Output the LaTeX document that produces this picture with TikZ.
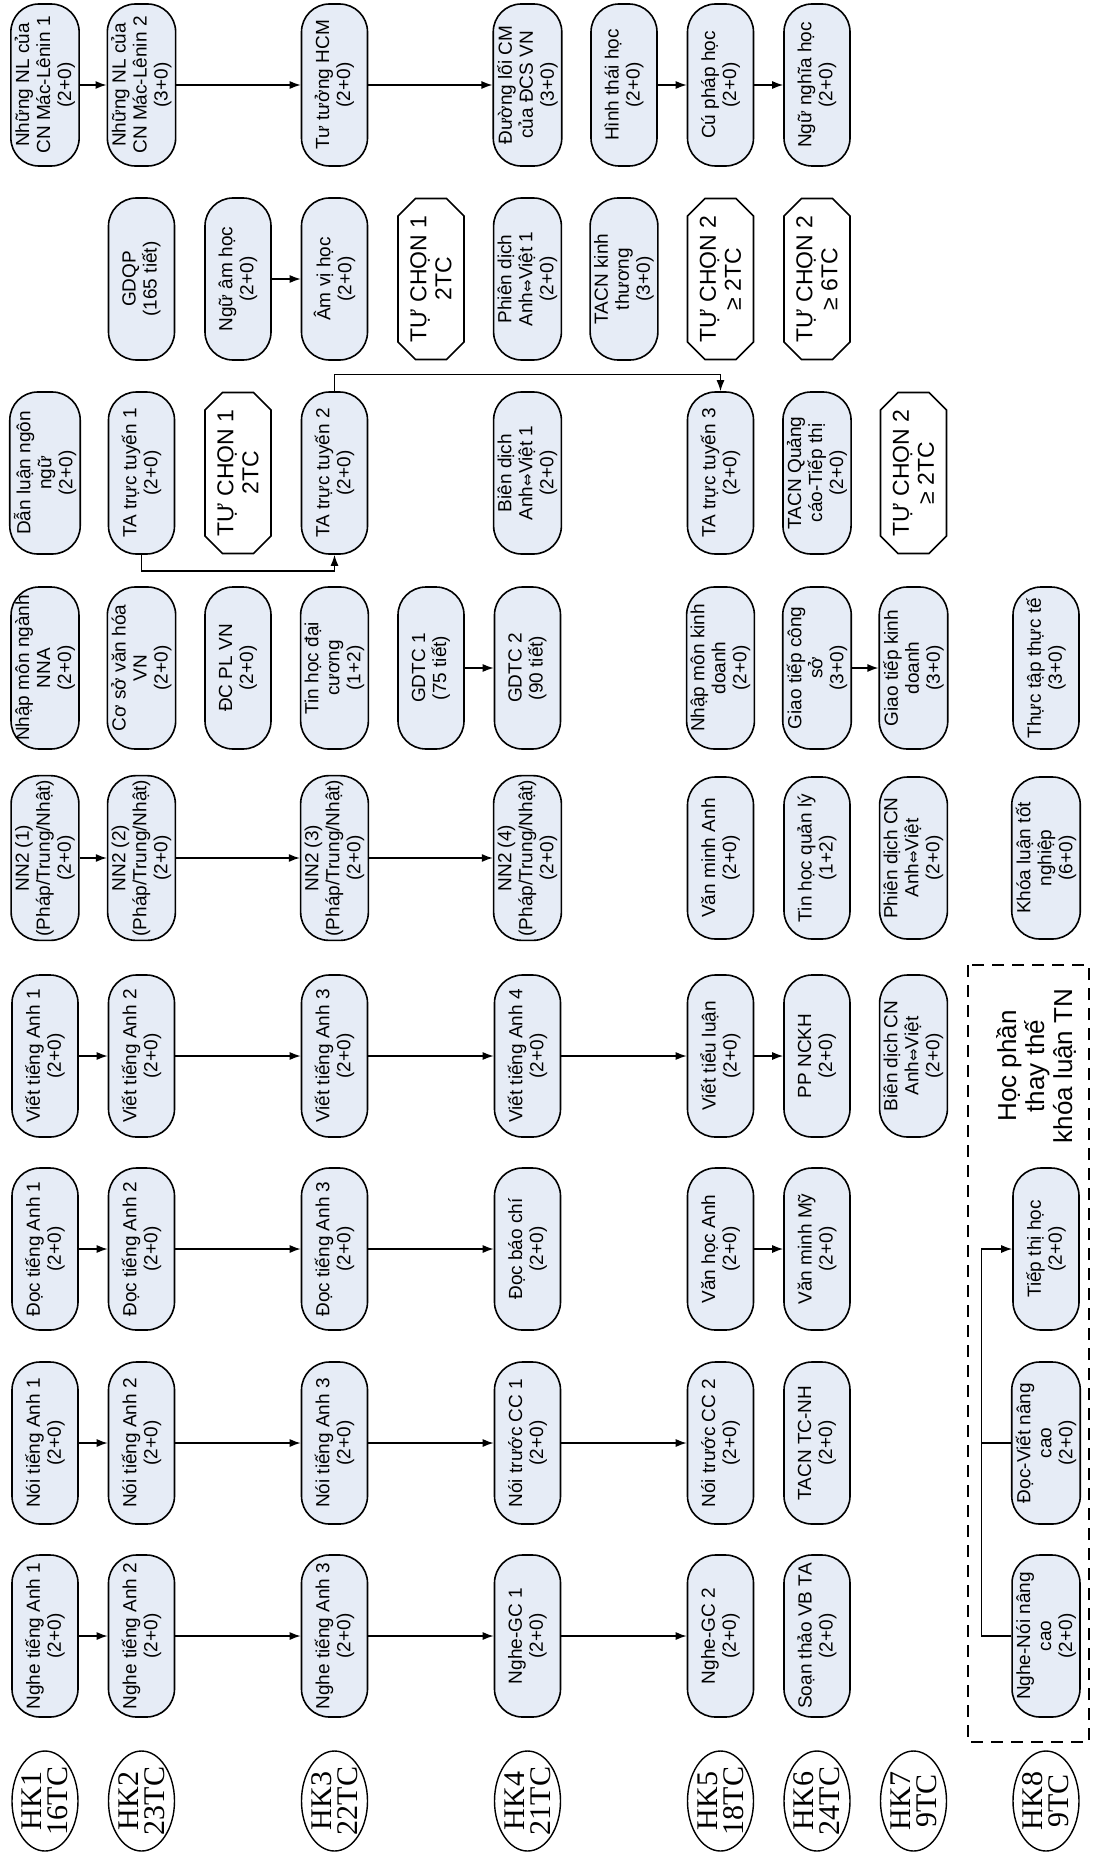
\documentclass[tikz,border=0pt]{standalone}
\usepackage{fontspec}
\setmainfont{Liberation Sans}
\newfontfamily\hkfont{Liberation Serif}
\newfontfamily\arrfont{DejaVu Sans}
\usepackage{tikz}
\usetikzlibrary{arrows.meta, shapes.geometric, shapes.misc}

\definecolor{coursefill}{RGB}{230,236,246}
\newcommand{\avarrow}{{\arrfont\fontsize{15}{15}\selectfont ⇔}}

\tikzset{
  course/.style={draw=black, line width=1.6pt, fill=coursefill, rectangle,
    rounded corners=28pt, rotate=90, minimum width=162pt, minimum height=66pt,
    inner sep=4pt, align=center, font=\fontsize{19}{21}\selectfont},
  choice/.style={draw=black, line width=1.6pt, fill=white, chamfered rectangle,
    chamfered rectangle xsep=14pt, rotate=90, minimum width=160pt,
    minimum height=66pt, inner sep=3pt, align=center,
    font=\fontsize{23}{25}\selectfont},
  hkoval/.style={draw=black, line width=1.4pt, ellipse, rotate=90,
    minimum width=100pt, minimum height=66pt, inner sep=0pt},
  hktext/.style={rotate=90, align=center, inner sep=0pt,
    font=\hkfont\fontsize{30}{26}\selectfont},
  arr/.style={-{Latex[length=11pt,width=8pt]}, line width=1.4pt},
  groupbox/.style={draw=black, line width=1.3pt, dash pattern=on 12pt off 8pt},
  boxtitle/.style={rotate=90, align=center, font=\fontsize{26}{28}\selectfont}
}

\begin{document}
\begin{tikzpicture}[x=1pt, y=-1pt]
    \fill[white] (0,0) rectangle (1093,1854);
    \useasboundingbox (0,0) rectangle (1093,1854);

    % HK1
    \node[course] (nl1) at (45,85) {Những NL của\\CN Mác-Lênin 1\\(2+0)};
    \node[course] (dlnn) at (45,473) {Dẫn luận ngôn\\ngữ\\(2+0)};
    \node[course] (nmnna) at (45,668) {Nhập môn ngành\\NNA\\(2+0)};

    % HK2
    \node[course] (nl2) at (141.5,85) {Những NL của\\CN Mác-Lênin 2\\(3+0)};
    \node[course] (gdqp) at (141.5,279) {GDQP\\(165 tiết)};
    \node[course] (tatt1) at (141.5,473) {TA trực tuyến 1\\(2+0)};
    \node[course] (csvh) at (141.5,668) {Cơ sở văn hóa\\VN\\(2+0)};
    \node[course] (nah) at (238,279) {Ngữ âm học\\(2+0)};
    \node[choice] (tc1a) at (238,473) {TỰ CHỌN 1\\2TC};
    \node[course] (dcpl) at (238,668) {ĐC PL VN\\(2+0)};

    % HK3
    \node[course] (tthcm) at (334.5,85) {Tư tưởng HCM\\(2+0)};
    \node[course] (avh) at (334.5,279) {Âm vị học\\(2+0)};
    \node[course] (tatt2) at (334.5,473) {TA trực tuyến 2\\(2+0)};
    \node[course] (thdc) at (334.5,668) {Tin học đại\\cương\\(1+2)};
    \node[choice] (tc1b) at (431,279) {TỰ CHỌN 1\\2TC};
    \node[course] (gdtc1) at (431,668) {GDTC 1\\(75 tiết)};

    % HK4
    \node[course] (dlcm) at (527.5,85) {Đường lối CM\\của ĐCS VN\\(3+0)};
    \node[course] (pdav1) at (527.5,279) {Phiên dịch\\Anh\avarrow Việt 1\\(2+0)};
    \node[course] (bdav1) at (527.5,473) {Biên dịch\\Anh\avarrow Việt 1\\(2+0)};
    \node[course] (gdtc2) at (527.5,668) {GDTC 2\\(90 tiết)};
    \node[course] (docbc) at (527.5,1249) {Đọc báo chí\\(2+0)};
    \node[course] (noicc1) at (527.5,1443) {Nói trước CC 1\\(2+0)};
    \node[course] (nghegc1) at (527.5,1636) {Nghe-GC 1\\(2+0)};
    \node[course] (hth) at (624,85) {Hình thái học\\(2+0)};
    \node[course] (tacnkt) at (624,279) {TACN kinh\\thương\\(3+0)};

    % HK5
    \node[course] (cph) at (720.5,85) {Cú pháp học\\(2+0)};
    \node[choice] (tc2a) at (720.5,279) {TỰ CHỌN 2\\≥ 2TC};
    \node[course] (tatt3) at (720.5,473) {TA trực tuyến 3\\(2+0)};
    \node[course] (nmkd) at (720.5,668) {Nhập môn kinh\\doanh\\(2+0)};
    \node[course] (vma) at (720.5,858) {Văn minh Anh\\(2+0)};
    \node[course] (vtl) at (720.5,1056) {Viết tiểu luận\\(2+0)};
    \node[course] (vha) at (720.5,1249) {Văn học Anh\\(2+0)};
    \node[course] (noicc2) at (720.5,1443) {Nói trước CC 2\\(2+0)};
    \node[course] (nghegc2) at (720.5,1636) {Nghe-GC 2\\(2+0)};

    % HK6
    \node[course] (nnh) at (817,85) {Ngữ nghĩa học\\(2+0)};
    \node[choice] (tc2b) at (817,279) {TỰ CHỌN 2\\≥ 6TC};
    \node[course] (tacnqc) at (817,473) {TACN Quảng\\cáo-Tiếp thị\\(2+0)};
    \node[course] (gtcs) at (817,668) {Giao tiếp công\\sở\\(3+0)};
    \node[course] (thql) at (817,858) {Tin học quản lý\\(1+2)};
    \node[course] (ppnckh) at (817,1056) {PP NCKH\\(2+0)};
    \node[course] (vmm) at (817,1249) {Văn minh Mỹ\\(2+0)};
    \node[course] (tacntc) at (817,1443) {TACN TC-NH\\(2+0)};
    \node[course] (stvb) at (817,1636) {Soạn thảo VB TA\\(2+0)};

    % HK7
    \node[choice] (tc2c) at (913.5,473) {TỰ CHỌN 2\\≥ 2TC};
    \node[course] (gtkd) at (913.5,668) {Giao tiếp kinh\\doanh\\(3+0)};
    \node[course] (pdcn) at (913.5,858) {Phiên dịch CN\\Anh\avarrow Việt\\(2+0)};
    \node[course] (bdcn) at (913.5,1056) {Biên dịch CN\\Anh\avarrow Việt\\(2+0)};

    % HK8
    \node[course] (tttt) at (1046,668) {Thực tập thực tế\\(3+0)};
    \node[course] (kltn) at (1046,858) {Khóa luận tốt\\nghiệp\\(6+0)};
    \node[course] (ttt) at (1046,1249) {Tiếp thị học\\(2+0)};
    \node[course] (dvnc) at (1046,1443) {Đọc-Viết nâng\\cao\\(2+0)};
    \node[course] (nnnc) at (1046,1636) {Nghe-Nói nâng\\cao\\(2+0)};

    % Skill chains
    \foreach \i/\x in {1/45, 2/141.5, 3/334.5, 4/527.5} {
        \node[course] (nn\i) at (\x,858) {NN2 (\i)\\(Pháp/Trung/Nhật)\\(2+0)};
        \node[course] (viet\i) at (\x,1056) {Viết tiếng Anh \i\\(2+0)};
    }
    \foreach \i/\x in {1/45, 2/141.5, 3/334.5} {
        \node[course] (doc\i) at (\x,1249) {Đọc tiếng Anh \i\\(2+0)};
        \node[course] (noi\i) at (\x,1443) {Nói tiếng Anh \i\\(2+0)};
        \node[course] (nghe\i) at (\x,1636) {Nghe tiếng Anh \i\\(2+0)};
    }

    % Semester labels
    \foreach \n/\x/\tc in {1/45/16, 2/141.5/23, 3/334.5/22, 4/527.5/21,
                           5/720.5/18, 6/817/24, 7/913.5/9, 8/1046/9} {
        \node[hkoval, label={[hktext]center:{HK\n\\\tc TC}}] (hk\n) at (\x,1801) {};
    }

    % Prerequisites
    \foreach \a/\b in {nl1/nl2, nl2/tthcm, tthcm/dlcm, hth/cph, cph/nnh,
                       nah/avh, gdtc1/gdtc2, gtcs/gtkd,
                       nn1/nn2, nn2/nn3, nn3/nn4,
                       viet1/viet2, viet2/viet3, viet3/viet4, viet4/vtl, vtl/ppnckh,
                       doc1/doc2, doc2/doc3, doc3/docbc, vha/vmm,
                       noi1/noi2, noi2/noi3, noi3/noicc1, noicc1/noicc2,
                       nghe1/nghe2, nghe2/nghe3, nghe3/nghegc1, nghegc1/nghegc2} {
        \draw[arr] (\a) -- (\b);
    }
    \draw[arr] (tatt1.west) -- ++(0,16) -| (tatt2.west);
    \draw[arr] (tatt2.east) -- ++(0,-17) -| (tatt3.east);

    % Thesis replacement box
    \draw[groupbox] (968,965) rectangle (1089,1742);
    \node[boxtitle] (thaythe) at (1036,1066) {Học phần\\thay thế\\khóa luận TN};
    \draw[arr] (nnnc.north) -- ++(-30,0) |- (ttt.north);
    \draw[line width=1.4pt] (dvnc.north) -- ++(-30,0);
\end{tikzpicture}
\end{document}
